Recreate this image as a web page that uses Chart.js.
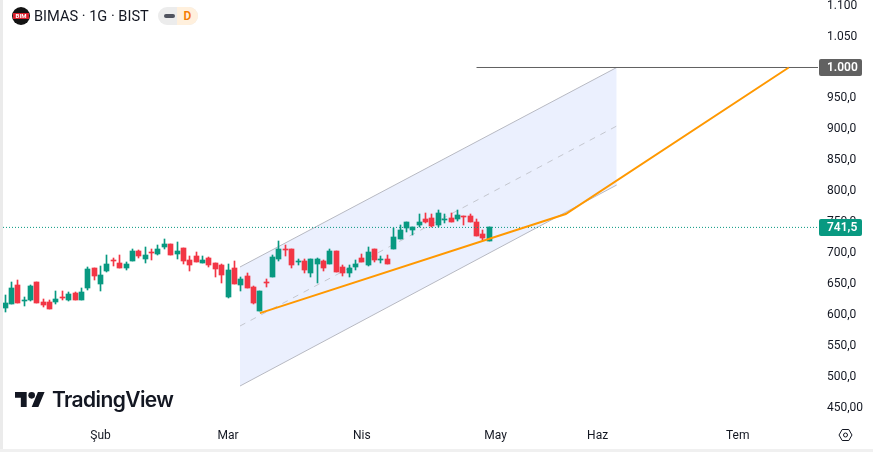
<!DOCTYPE html>
<html>
<head>
<meta charset="utf-8">
<title>BIMAS 1G</title>
<script src="https://cdn.jsdelivr.net/npm/chart.js@4"></script>
<style>
  html, body { margin: 0; padding: 0; background: #fff; overflow: hidden; }
  #wrap { position: relative; width: 873px; height: 452px; font-family: Roboto, sans-serif; color: #131722; }
  #chart { position: absolute; left: 0; top: 0; }
  #edgeLeft { position: absolute; left: 0; top: 0; width: 3px; height: 452px; background: #ebebeb; }
  #edgeBottom { position: absolute; left: 0; top: 449px; width: 873px; height: 3px; background: #f0f0f0; }
  #symbol { position: absolute; left: 34px; top: 7px; font-size: 14.6px; line-height: 18px; white-space: nowrap; }
  #logo { position: absolute; left: 12px; top: 7px; width: 18px; height: 18px; border-radius: 50%; background: #131313; }
  #logo span { position: absolute; left: 1px; top: 6px; width: 16px; height: 6px; background: #d8202c; color: #fff; font: bold 6px/6px Roboto, sans-serif; text-align: center; }
  #pill { position: absolute; left: 158px; top: 7px; width: 40px; height: 18px; border-radius: 9px; overflow: hidden; background: #ececec; }
  #pill i { position: absolute; left: 6px; top: 7px; width: 11px; height: 4px; border-radius: 2px; background: #50535e; }
  #pill b { position: absolute; left: 19px; top: 0; width: 21px; height: 18px; background: #fff0dd; color: #f57c00; font: 600 12px/18px Roboto, sans-serif; text-align: center; }
  #brand { position: absolute; left: 15px; top: 392px; }
  #brandText { position: absolute; left: 52px; top: 387px; font: 600 21px/26px Inter, sans-serif; letter-spacing: -0.6px; color: #131722; }
  #gear { position: absolute; left: 838px; top: 428px; }
</style>
</head>
<body>
<div id="wrap">
  <canvas id="chart" width="873" height="452"></canvas>
  <div id="edgeLeft"></div>
  <div id="edgeBottom"></div>
  <div id="logo"><span>BIM</span></div>
  <div id="symbol">BIMAS · 1G · BIST</div>
  <div id="pill"><i></i><b>D</b></div>
  <svg id="brand" width="30" height="15" viewBox="0 4 36 18"><path fill="#131722" d="M14 22H7V11H0V4h14v18zM28 22h-8l7.5-18h8L28 22z"/><circle fill="#131722" cx="20" cy="8" r="4"/></svg>
  <div id="brandText">TradingView</div>
  <svg id="gear" width="15" height="14" viewBox="0 0 15 14" fill="none" stroke="#131722" stroke-width="1"><path d="M4.2 1.5h6.6l3.2 5.5-3.2 5.5H4.2L1 7z"/><circle cx="7.5" cy="7" r="2"/></svg>
</div>

<script>
// daily candles, oldest first
const opens = [611.0, 617.5, 647.6, 622.3, 623.9, 654.0, 620.2, 620.2, 620.2, 628.2, 623.9, 634.7, 623.9, 643.3, 676.6, 650.8, 671.8, 689.5, 684.7, 675.6,
  687.9, 704.0, 691.1, 702.4, 699.2, 710.5, 715.3, 699.2, 708.9, 689.5, 696.0, 684.7, 692.8, 684.7, 681.5, 628.2, 676.6, 649.2, 663.7, 644.4,
  605.7, 654.0, 662.1, 691.1, 707.3, 707.3, 686.3, 687.9, 668.6, 683.1, 687.9, 683.1, 704.0, 678.2, 667.0, 678.2, 692.8, 681.5, 707.3,
  689.5, 691.1, 707.2, 723.4, 741.1, 737.9, 745.9, 755.6, 757.2, 745.9, 754.0, 757.2, 755.6, 760.4, 760.4, 750.8, 731.4, 720.1];
const highs = [631.5, 654.0, 655.7, 628.8, 647.6, 654.0, 625.0, 623.4, 639.5, 639.5, 636.3, 636.3, 642.8, 678.2, 676.6, 679.9, 697.6, 692.8, 697.6, 686.3,
  707.3, 705.7, 710.5, 707.3, 713.7, 723.4, 715.3, 718.6, 708.9, 696.0, 702.4, 696.0, 694.4, 684.7, 683.1, 683.1, 687.9, 662.1, 668.6, 646.0,
  639.5, 657.3, 697.6, 720.2, 713.7, 707.3, 691.1, 691.1, 691.1, 692.8, 689.5, 707.3, 704.0, 681.5, 681.5, 689.5, 699.2, 710.5, 707.3,
  695.9, 697.5, 741.1, 745.9, 750.8, 742.7, 763.7, 765.3, 763.7, 770.1, 763.7, 765.3, 770.1, 760.4, 763.7, 755.6, 737.9, 742.7];
const lows = [604.6, 617.0, 619.1, 614.3, 622.3, 619.1, 612.1, 609.4, 617.0, 623.4, 622.3, 623.9, 623.9, 640.1, 655.7, 637.9, 670.2, 679.9, 675.6, 673.4,
  687.9, 692.8, 684.7, 689.5, 697.6, 707.3, 697.6, 691.1, 683.1, 671.8, 686.3, 684.7, 678.2, 662.1, 652.4, 626.6, 650.8, 637.9, 642.8, 617.0,
  605.7, 644.4, 662.1, 687.9, 696.0, 676.6, 681.5, 667.0, 662.1, 652.4, 671.8, 683.1, 670.2, 663.7, 662.1, 673.4, 686.3, 679.9, 686.3,
  684.6, 683.0, 707.2, 723.4, 734.6, 729.8, 742.7, 749.2, 742.7, 742.7, 749.2, 750.8, 752.4, 745.9, 750.8, 728.2, 721.7, 720.1];
const closes = [618.6, 642.8, 619.1, 623.9, 646.0, 619.1, 615.3, 609.4, 625.0, 626.6, 633.1, 623.9, 636.3, 675.0, 662.6, 665.3, 683.1, 687.9, 675.6, 683.1,
  704.0, 696.0, 697.6, 700.8, 707.3, 715.3, 697.6, 704.0, 687.9, 681.5, 686.3, 689.5, 681.5, 675.0, 665.3, 673.4, 650.8, 658.9, 642.8, 618.6,
  639.5, 652.4, 694.4, 707.3, 705.7, 681.5, 687.9, 673.4, 691.1, 691.1, 676.6, 704.0, 670.2, 668.6, 676.6, 683.1, 686.3, 702.4, 689.5,
  691.1, 683.0, 726.6, 737.9, 750.8, 742.7, 750.8, 750.8, 744.3, 765.3, 755.6, 750.8, 762.1, 758.8, 750.8, 728.2, 725.0, 741.5];

// time axis, positions in bars
const monthTicks = [15, 35, 56, 77, 93, 115];
const monthLabels = ['Şub', 'Mar', 'Nis', 'May', 'Haz', 'Tem'];

// price axis
const priceTicks = [1100, 1050, 1000, 950, 900, 850, 800, 750, 700, 650, 600, 550, 500, 450];
const priceLabels = ['1.100', '1.050', '1.000', '950,0', '900,0', '850,0', '800,0', '750,0', '700,0', '650,0', '600,0', '550,0', '500,0', '450,00'];

// drawings on top of the candles
const channelBars = [36.88, 96];
const channelTop = [677.5, 1000];
const channelMid = [582.1, 905.4];
const channelBottom = [485.1, 810];
const pathBars = [40, 88, 123];
const pathPrices = [603, 763.2, 1000];
const targetPrice = 1000;
const targetStartBar = 74;
const lastPrice = 741.5;

const GREEN = '#089981';
const RED = '#F23645';
const X_MIN = -0.785;
const X_MAX = 127.59;

function pairs(xs, ys) {
  return xs.map(function (x, i) { return { x: x, y: ys[i] }; });
}

function lineSet(data, color, width, order, extra) {
  return Object.assign({
    type: 'line',
    data: data,
    borderColor: color,
    borderWidth: width,
    pointRadius: 0,
    tension: 0,
    fill: false,
    order: order
  }, extra || {});
}

const candleColors = closes.map(function (c, i) { return c >= opens[i] ? GREEN : RED; });

// snap candles to whole pixels so bodies and wicks stay sharp
const snapCandles = {
  id: 'snapCandles',
  beforeDatasetsDraw: function (chart) {
    chart.data.datasets.forEach(function (ds, idx) {
      if (ds.type !== 'bar') return;
      chart.getDatasetMeta(idx).data.forEach(function (bar) {
        bar.x = Math.floor(bar.x) + 0.5;
        bar.y = Math.round(bar.y);
        bar.base = Math.round(bar.base);
        if (Math.abs(bar.base - bar.y) < 1) bar.base = bar.y + 1;
      });
    });
  }
};

// price tags on the axis
const priceTags = {
  id: 'priceTags',
  afterDraw: function (chart) {
    const c = chart.ctx;
    const scale = chart.scales.y;
    [[targetPrice, '#616161', '1.000'], [lastPrice, GREEN, '741,5']].forEach(function (tag) {
      const y = Math.floor(scale.getPixelForValue(tag[0]));
      c.save();
      c.fillStyle = tag[1];
      c.beginPath();
      c.roundRect(819, y - 8, 43, 17, 2);
      c.fill();
      c.fillStyle = '#fff';
      c.font = '600 12px Roboto, sans-serif';
      c.textAlign = 'left';
      c.textBaseline = 'middle';
      c.fillText(tag[2], 827, y + 1);
      c.restore();
    });
  }
};

new Chart(document.getElementById('chart'), {
  type: 'bar',
  data: {
    datasets: [
      lineSet(pairs(channelBars, channelTop), '#b7b9c2', 1, 9, { fill: { target: 1 }, backgroundColor: '#ebf0fe' }),
      lineSet(pairs(channelBars, channelBottom), '#b7b9c2', 1, 8),
      lineSet(pairs(channelBars, channelMid), '#c4c7cf', 1, 7, { borderDash: [6, 6] }),
      {
        type: 'bar',
        data: lows.map(function (l, i) { return { x: i, y: [l, highs[i]] }; }),
        backgroundColor: candleColors,
        barThickness: 1,
        grouped: false,
        order: 6
      },
      {
        type: 'bar',
        data: opens.map(function (o, i) { return { x: i, y: [o, closes[i]] }; }),
        backgroundColor: candleColors,
        barThickness: 5,
        grouped: false,
        order: 5
      },
      lineSet(pairs([X_MIN, X_MAX], [lastPrice, lastPrice]), GREEN, 1, 4, { borderDash: [1, 2] }),
      lineSet(pairs([targetStartBar, X_MAX], [targetPrice, targetPrice]), '#616161', 1, 3),
      lineSet(pairs(pathBars, pathPrices), '#FF9800', 2, 2)
    ]
  },
  options: {
    responsive: false,
    animation: false,
    events: [],
    layout: { padding: 0 },
    plugins: { legend: { display: false }, tooltip: { enabled: false } },
    scales: {
      x: {
        type: 'linear',
        offset: false,
        min: X_MIN,
        max: X_MAX,
        grid: { display: false, drawTicks: false },
        border: { display: false },
        afterFit: function (axis) {
          axis.height = 28;
          axis.paddingLeft = 0;
          axis.paddingRight = 0;
        },
        afterBuildTicks: function (axis) {
          axis.ticks = monthTicks.map(function (v) { return { value: v }; });
        },
        ticks: {
          autoSkip: false,
          maxRotation: 0,
          padding: 5,
          color: '#131722',
          font: { family: 'Roboto, sans-serif', size: 12 },
          callback: function (value) { return monthLabels[monthTicks.indexOf(value)]; }
        }
      },
      y: {
        position: 'right',
        min: 423.7,
        max: 1109.1,
        grid: { display: false, drawTicks: false },
        border: { display: false },
        afterFit: function (axis) {
          axis.width = 55;
          axis.paddingTop = 0;
          axis.paddingBottom = 0;
        },
        afterBuildTicks: function (axis) {
          axis.ticks = priceTicks.map(function (v) { return { value: v }; });
        },
        ticks: {
          autoSkip: false,
          crossAlign: 'near',
          padding: 9,
          color: '#131722',
          font: { family: 'Roboto, sans-serif', size: 12 },
          callback: function (value) { return priceLabels[priceTicks.indexOf(value)]; }
        }
      }
    }
  },
  plugins: [snapCandles, priceTags]
});
</script>
</body>
</html>
